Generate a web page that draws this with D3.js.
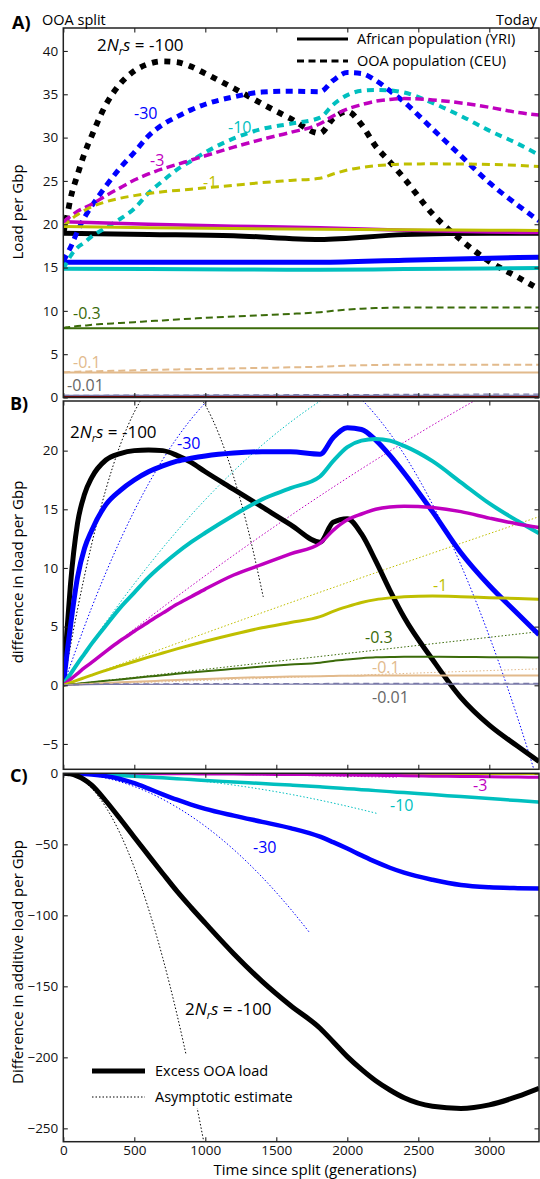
<!DOCTYPE html>
<html>
<head>
<meta charset="utf-8">
<script src="https://cdn.jsdelivr.net/npm/d3@7.9.0/dist/d3.min.js"></script>
<style>
  body { margin: 0; background: #fff; }
  svg { display: block; font-family: 'Open Sans', sans-serif; }
</style>
</head>
<body>
<svg id="chart" width="540" height="1179"></svg>
<script>
// selection coefficients (2N_r s), one colour each
const coefs = ['-100', '-30', '-10', '-3', '-1', '-0.3', '-0.1', '-0.01'];

// generations since the OOA split (shared grid)
const gens = [0, 25, 50, 100, 150, 200, 300, 400, 500, 600, 700, 800, 900, 1000, 1200,
  1400, 1600, 1808, 1900, 2000, 2100, 2200, 2300, 2400, 2600, 2800, 3000, 3200, 3350];
const gensShort = [0, 1000, 2000, 3350];

// ---- A) load per Gbp, African (YRI) ----
const yriT = [0, 600, 1200, 1808, 2400, 3000, 3350];
const yri100 = [18.95, 18.82, 18.68, 18.25, 18.8, 18.95, 18.95];
const yri30 = [15.6, 15.6, 15.6, 15.6, 15.85, 16.08, 16.2];
const yri10 = [14.85, 14.82, 14.78, 14.75, 14.82, 14.9, 14.95];
const yri3 = [20.3, 20.0, 19.78, 19.6, 19.3, 19.1, 19.04];
const yri1 = [19.73, 19.6, 19.5, 19.42, 19.36, 19.31, 19.28];
const yri03 = [8.0, 8.0, 8.0, 8.0, 8.0, 8.0, 8.0];
const yri01 = [2.9, 2.9, 2.9, 2.9, 2.9, 2.9, 2.9];
const yri001 = [0.25, 0.25, 0.25, 0.25, 0.25, 0.25, 0.25];
const yriNeutral = [0.05, 0.05, 0.05, 0.05, 0.05, 0.05, 0.05];

// ---- A) load per Gbp, OOA (CEU), on gens ----
const ceu100 = [18.95, 20.8, 22.9, 25.7, 28.2, 30.2, 33.8, 36.2, 37.7, 38.5, 38.8, 38.7, 38.2, 37.4, 35.7,
  33.9, 32.2, 30.5, 32.2, 33.0, 31.5, 29.0, 27.2, 25.3, 21.2, 18.2, 15.7, 13.9, 12.5];
const ceu30 = [15.7, 16.5, 17.3, 19.2, 20.8, 22.1, 24.4, 26.5, 28.3, 30.2, 31.5, 32.4, 33.2, 33.85, 34.7,
  35.25, 35.35, 35.3, 36.6, 37.5, 37.4, 36.6, 35.4, 34.1, 31.0, 27.9, 24.8, 22.2, 20.4];
const ceu10 = [14.85, 15.6, 16.3, 17.3, 17.9, 18.6, 19.6, 20.6, 21.8, 23.6, 25.0, 26.3, 27.3, 28.3, 29.9,
  31.0, 31.6, 32.3, 33.8, 34.9, 35.4, 35.5, 35.45, 35.2, 34.0, 32.5, 30.8, 29.3, 28.0];
const ceu3 = [20.3, 20.6, 20.9, 21.5, 21.9, 22.3, 23.3, 24.2, 25.1, 25.8, 26.4, 26.9, 27.4, 27.9, 28.9,
  29.8, 30.6, 31.6, 32.5, 33.3, 33.8, 34.2, 34.4, 34.5, 34.35, 34.0, 33.5, 32.9, 32.6];
const ceu1 = [19.73, 20.1, 20.5, 21.1, 21.6, 22.0, 22.6, 23.0, 23.3, 23.55, 23.75, 23.9, 24.05, 24.2, 24.5,
  24.8, 25.05, 25.3, 25.8, 26.25, 26.55, 26.75, 26.88, 26.95, 26.97, 26.95, 26.9, 26.8, 26.65];
const ceu03 = [8.0, 8.1, 8.15, 8.25, 8.3, 8.4, 8.5, 8.6, 8.7, 8.8, 8.9, 9.0, 9.1, 9.2, 9.35,
  9.5, 9.65, 9.85, 10.0, 10.15, 10.25, 10.32, 10.37, 10.4, 10.4, 10.4, 10.4, 10.4, 10.4];
const ceu01 = [2.9, 2.92, 2.95, 2.98, 3.0, 3.02, 3.06, 3.1, 3.14, 3.18, 3.21, 3.24, 3.27, 3.3, 3.36,
  3.42, 3.48, 3.55, 3.62, 3.68, 3.72, 3.75, 3.77, 3.78, 3.78, 3.78, 3.78, 3.78, 3.78];
const ceu001T = [0, 1808, 3350];
const ceu001 = [0.25, 0.33, 0.4];

// ---- B) difference in load per Gbp, on gens ----
const diff100 = [0, 4.5, 8.5, 13.8, 16.3, 17.7, 19.2, 19.75, 20.0, 20.05, 20.0, 19.6, 19.0, 18.2, 16.7,
  15.2, 13.7, 12.2, 13.9, 14.2, 12.9, 10.6, 8.1, 5.8, 2.2, -1.05, -3.4, -5.2, -6.5];
const diff30 = [0, 2.6, 5.0, 9.2, 11.7, 13.2, 15.4, 16.6, 17.5, 18.2, 18.7, 19.1, 19.35, 19.55, 19.8,
  19.9, 19.9, 19.7, 21.1, 21.95, 21.8, 20.9, 19.6, 18.1, 14.8, 11.3, 8.5, 6.1, 4.3];
const diff10 = [0, 0.5, 0.95, 1.85, 2.7, 3.55, 5.1, 6.6, 7.9, 9.2, 10.3, 11.3, 12.2, 13.0, 14.5,
  15.85, 16.8, 17.8, 19.1, 20.3, 20.85, 21.0, 20.85, 20.4, 19.1, 17.3, 15.5, 14.0, 12.95];
const diff3 = [0, 0.25, 0.5, 1.0, 1.5, 1.95, 2.9, 3.8, 4.6, 5.4, 6.15, 6.9, 7.55, 8.2, 9.4,
  10.3, 11.2, 12.1, 13.2, 14.1, 14.6, 15.0, 15.2, 15.27, 15.15, 14.8, 14.25, 13.75, 13.45];
const diff1 = [0, 0.11, 0.22, 0.44, 0.65, 0.86, 1.27, 1.65, 2.03, 2.4, 2.75, 3.1, 3.43, 3.75, 4.35,
  4.9, 5.35, 5.85, 6.3, 6.7, 7.05, 7.3, 7.45, 7.55, 7.6, 7.55, 7.47, 7.4, 7.33];
const diff03 = [0, 0.03, 0.07, 0.13, 0.2, 0.26, 0.38, 0.5, 0.62, 0.74, 0.86, 0.98, 1.09, 1.2, 1.4,
  1.6, 1.77, 1.93, 2.08, 2.2, 2.3, 2.38, 2.42, 2.44, 2.44, 2.42, 2.4, 2.38, 2.36];
const diff01 = [0, 0.02, 0.04, 0.07, 0.1, 0.13, 0.19, 0.25, 0.3, 0.35, 0.4, 0.45, 0.5, 0.54, 0.62,
  0.69, 0.74, 0.78, 0.8, 0.81, 0.82, 0.83, 0.83, 0.83, 0.83, 0.83, 0.83, 0.83, 0.83];
const diff001T = [0, 300, 3350];
const diff001 = [0, 0.08, 0.1];
const diff001ooa = [0, 0.12, 0.17];

// B) asymptotic estimates (dotted)
const asymB100T = [0, 100, 200, 300, 400, 500, 600, 700, 763, 800, 900, 1000, 1100, 1200, 1300, 1408];
const asymB100 = [0, 6.47, 12.04, 16.7, 20.45, 23.29, 25.22, 26.25, 26.43, 26.37, 25.58, 23.88, 21.27, 17.76, 13.34, 7.54];
const asymB30T = [0, 200, 400, 600, 800, 1000, 1200, 1561, 2000, 2200, 2400, 2600, 2800, 3000, 3123, 3200, 3300, 3350];
const asymB30 = [0, 6.63, 12.35, 17.17, 21.07, 24.07, 26.17, 27.65, 25.47, 23.03, 19.68, 15.42, 10.26, 4.18, 0, -2.79, -6.62, -8.62];
const asymB10T = [0, 200, 400, 600, 800, 1000, 1200, 1400, 1600, 1808, 1900];
const asymB10 = [0, 3.64, 7.05, 10.21, 13.14, 15.82, 18.26, 20.47, 22.43, 24.22, 24.93];
const asymB3T = [0, 400, 800, 1200, 1600, 2000, 2400, 2800, 3000];
const asymB3 = [0, 3.86, 7.56, 11.09, 14.46, 17.67, 20.71, 23.59, 24.96];
const asymB1 = [0, 4.45, 8.75, 14.37];
const asymB03 = [0, 1.36, 2.72, 4.57];
const asymB01 = [0, 0.42, 0.84, 1.4];

// ---- C) difference in additive load per Gbp, on gens ----
const add100 = [0, -0.1, -0.4, -2.0, -4.6, -8.3, -19.5, -32.0, -45.0, -57.8, -70.5, -83.0, -94.5, -105.5, -127,
  -146.5, -163.5, -179.5, -189, -199.5, -208.5, -216.5, -223, -228.5, -234.5, -236, -233.5, -227.5, -221.8];
const add30 = [0, 0, -0.05, -0.2, -0.45, -0.8, -2.0, -4.0, -7.0, -10.8, -14.8, -18.6, -22, -25.0, -29.8,
  -34.2, -38.6, -44.6, -48.5, -53, -57.8, -62.4, -66.5, -70.0, -75.0, -78.7, -80.3, -80.9, -81.1];
const add10 = [0, 0, -0.03, -0.12, -0.3, -0.5, -1.0, -1.5, -2.05, -2.6, -3.2, -3.8, -4.4, -5.0, -6.1,
  -7.2, -8.3, -9.5, -10.1, -10.8, -11.5, -12.2, -12.9, -13.6, -15.0, -16.4, -17.8, -19.2, -20.3];
const add3 = [0, 0, 0, -0.02, -0.04, -0.06, -0.1, -0.15, -0.2, -0.25, -0.3, -0.35, -0.4, -0.45, -0.55,
  -0.7, -0.85, -1.0, -1.1, -1.2, -1.3, -1.4, -1.55, -1.7, -2.0, -2.2, -2.45, -2.65, -2.8];
const add1 = [0, -0.1, -0.25, -0.4];
const add03 = [0, -0.02, -0.05, -0.1];
const add01 = [0, 0, -0.01, -0.02];

// C) asymptotic estimates (dotted)
const asymC100T = [0, 100, 200, 300, 400, 500, 600, 700, 800, 900, 1000];
const asymC100 = [0, -2.65, -10.6, -23.9, -42.4, -66.3, -95.4, -129.9, -169.6, -214.7, -265];
const asymC30T = [0, 200, 400, 600, 800, 1000, 1200, 1400, 1600, 1737];
const asymC30 = [0, -1.49, -5.97, -13.4, -23.9, -37.3, -53.7, -73.1, -95.5, -112.5];
const asymC10T = [0, 400, 800, 1200, 1600, 2000, 2207];
const asymC10 = [0, -0.93, -3.7, -8.3, -14.8, -23.2, -28.2];
const asymC3T = [0, 800, 1200, 1600, 2000, 2348];
const asymC3 = [0, -0.35, -0.8, -1.4, -2.1, -2.8];

const xTicks = [0, 500, 1000, 1500, 2000, 2500, 3000];
const yTicksA = d3.range(0, 41, 5);
const yTicksB = [-5, 0, 5, 10, 15, 20];
const yTicksC = [-250, -200, -150, -100, -50, 0];

// ---------- styling ----------
const color = d3.scaleOrdinal(coefs,
  ['#000000', '#0000ff', '#00bfbf', '#bf00bf', '#bfbf00', '#3b6b0a', '#e2ba8c', '#7878a8']);
const lw = d3.scaleOrdinal(coefs, [5, 5, 4, 3.5, 3, 2, 2, 1.2]);
const dash = d3.scaleOrdinal(coefs,
  ['6,6.5', '7,5.5', '7,5.5', '8.5,4.5', '8,5', '7,4', '7,4', '6,4']);

const zip = (t, v) => t.map((g, i) => [g, v[i]]);

const svg = d3.select('#chart');
const x = d3.scaleLinear().domain([0, 3350]).range([63.3, 539]);
const line = y => d3.line().x(d => x(d[0])).y(d => y(d[1])).curve(d3.curveMonotoneX);

function panel(id, domain, range, yTicks, showX) {
  const y = d3.scaleLinear().domain(domain).range(range);
  const g = svg.append('g');
  svg.append('clipPath').attr('id', 'clip' + id)
    .append('rect').attr('x', x.range()[0]).attr('y', range[1])
    .attr('width', x.range()[1] - x.range()[0]).attr('height', range[0] - range[1]);
  const plot = g.append('g').attr('clip-path', `url(#clip${id})`);
  return { y, g, plot, draw() {
    const ax = g.append('g').attr('class', 'axes');
    ax.append('g').attr('transform', `translate(${x.range()[0]},0)`)
      .call(d3.axisLeft(y).tickValues(yTicks).tickSize(-4.5).tickPadding(5).tickFormat(d3.format('d')));
    ax.append('g').attr('transform', `translate(${x.range()[1]},0)`)
      .call(d3.axisRight(y).tickValues(yTicks).tickSize(-4.5).tickFormat(''));
    ax.append('g').attr('transform', `translate(0,${range[1]})`)
      .call(d3.axisTop(x).tickValues(xTicks).tickSize(-4.5).tickFormat(''));
    ax.append('g').attr('transform', `translate(0,${range[0]})`)
      .call(d3.axisBottom(x).tickValues(xTicks).tickSize(-4.5).tickPadding(4)
        .tickFormat(showX ? d3.format('d') : ''));
    ax.selectAll('.domain').remove();
    ax.selectAll('.tick line').attr('stroke', '#222').attr('stroke-width', 1.1);
    ax.selectAll('.tick text').attr('font-size', 13.5).attr('fill', '#111')
      .attr('font-family', "'Open Sans', sans-serif");
    g.append('rect').attr('x', x.range()[0]).attr('y', range[1])
      .attr('width', x.range()[1] - x.range()[0]).attr('height', range[0] - range[1])
      .attr('fill', 'none').attr('stroke', '#222').attr('stroke-width', 1.5);
  } };
}

function path(p, pts, c, w, da) {
  p.plot.append('path').datum(pts).attr('d', line(p.y)).attr('fill', 'none')
    .attr('stroke', c).attr('stroke-width', w).attr('stroke-dasharray', da || null)
    .attr('stroke-linejoin', 'round');
}

function label(txt, px, py, c, size, anchor) {
  return svg.append('text').attr('x', px).attr('y', py).attr('fill', c)
    .attr('font-size', size || 16).attr('text-anchor', anchor || 'start').text(txt);
}

function nrsLabel(px, py) {
  svg.append('text').attr('x', px).attr('y', py).attr('font-size', 17).attr('fill', '#000')
    .html('2<tspan font-style="italic">N</tspan><tspan font-style="italic" font-size="11" dy="4">r</tspan>' +
      '<tspan font-style="italic" dy="-4">s</tspan> = -100');
}

// ---------- Panel A ----------
const A = panel('A', [0, 42.65], [397.5, 28], yTicksA, false);
const yriSets = [yri100, yri30, yri10, yri3, yri1, yri03, yri01, yri001];
const ceuSets = [ceu100, ceu30, ceu10, ceu3, ceu1, ceu03, ceu01];
path(A, zip(yriT, yriNeutral), '#800000', 2);
coefs.forEach((s, i) => {
  path(A, zip(yriT, yriSets[i]), color(s), lw(s));
  const dashed = i < 7 ? zip(gens, ceuSets[i]) : zip(ceu001T, ceu001);
  path(A, dashed, color(s), lw(s) + (i === 0 ? 0.8 : 0), dash(s));
});
A.draw();

// ---------- Panel B ----------
const B = panel('B', [-7.16, 24.23], [769.3, 401], yTicksB, false);
const diffSets = [diff100, diff30, diff10, diff3, diff1, diff03, diff01];
const asymBSets = [[asymB100T, asymB100], [asymB30T, asymB30], [asymB10T, asymB10], [asymB3T, asymB3],
  [gensShort, asymB1], [gensShort, asymB03], [gensShort, asymB01]];
coefs.forEach((s, i) => {
  if (i < 7) path(B, zip(asymBSets[i][0], asymBSets[i][1]), color(s), 1, '1.5,2');
});
coefs.forEach((s, i) => {
  const pts = i < 7 ? zip(gens, diffSets[i]) : zip(diff001T, diff001);
  path(B, pts, color(s), lw(s));
});
path(B, zip(diff001T, diff001ooa), color('-0.01'), 1.2, '6,4');
B.draw();

// ---------- Panel C ----------
const C = panel('C', [-259.4, 0], [1141.7, 773.3], yTicksC, true);
const addSets = [[gens, add100], [gens, add30], [gens, add10], [gens, add3],
  [gensShort, add1], [gensShort, add03], [gensShort, add01]];
const asymCSets = [[asymC100T, asymC100], [asymC30T, asymC30], [asymC10T, asymC10], [asymC3T, asymC3]];
asymCSets.forEach((d, i) => path(C, zip(d[0], d[1]), color(coefs[i]), 1, '1.5,2'));
addSets.slice().reverse().forEach((d, j) => {
  const s = coefs[6 - j];
  path(C, zip(d[0], d[1]), color(s), s === '-100' ? 5 : lw(s) - 0.5);
});
C.draw();

// legend C (white box hides the dotted line behind it)
svg.append('rect').attr('x', 84).attr('y', 1055).attr('width', 215).attr('height', 53).attr('fill', '#fff');
svg.append('line').attr('x1', 92).attr('x2', 145).attr('y1', 1071).attr('y2', 1071)
  .attr('stroke', '#000').attr('stroke-width', 5);
svg.append('line').attr('x1', 92).attr('x2', 145).attr('y1', 1097).attr('y2', 1097)
  .attr('stroke', '#000').attr('stroke-width', 1).attr('stroke-dasharray', '1.5,2');
label('Excess OOA load', 155, 1076, '#000', 14.5);
label('Asymptotic estimate', 155, 1102, '#000', 14.5);

// legend A
svg.append('line').attr('x1', 297).attr('x2', 348).attr('y1', 39).attr('y2', 39)
  .attr('stroke', '#000').attr('stroke-width', 3);
svg.append('line').attr('x1', 297).attr('x2', 348).attr('y1', 61).attr('y2', 61)
  .attr('stroke', '#000').attr('stroke-width', 3).attr('stroke-dasharray', '7,4.5');
label('African population (YRI)', 357, 44, '#000', 14.5);
label('OOA population (CEU)', 357, 66, '#000', 14.5);

// series labels
nrsLabel(97, 51);
label('-30', 134, 119, color('-30'));
label('-10', 228, 133, color('-10'));
label('-3', 150, 166, color('-3'));
label('-1', 203, 188, color('-1'));
label('-0.3', 73, 319, color('-0.3'));
label('-0.1', 73, 368, color('-0.1'));
label('-0.01', 67, 391, '#666');

nrsLabel(70, 438);
label('-30', 177, 449, color('-30'));
label('-1', 433, 591, color('-1'));
label('-0.3', 365, 643, color('-0.3'));
label('-0.1', 372, 673, color('-0.1'));
label('-0.01', 372, 703, '#666');

label('-3', 473, 791, color('-3'));
label('-10', 390, 811, color('-10'));
label('-30', 253, 853, color('-30'));
nrsLabel(185, 1015);

// panel tags and titles
svg.append('text').attr('x', 12).attr('y', 29).attr('font-size', 18).attr('font-weight', 'bold').text('A)');
svg.append('text').attr('x', 10).attr('y', 410).attr('font-size', 18).attr('font-weight', 'bold').text('B)');
svg.append('text').attr('x', 10).attr('y', 782).attr('font-size', 18).attr('font-weight', 'bold').text('C)');
label('OOA split', 42, 25, '#000', 14.5);
label('Today', 537, 25, '#000', 14.5, 'end');

const yLabel = (txt, cy) => svg.append('text')
  .attr('transform', `translate(23,${cy}) rotate(-90)`).attr('text-anchor', 'middle')
  .attr('font-size', 15).text(txt);
yLabel('Load per Gbp', 212);
yLabel('difference in load per Gbp', 572);
yLabel('Difference in additive load per Gbp', 962);
label('Time since split (generations)', 315, 1175, '#000', 15, 'middle');
</script>
</body>
</html>
